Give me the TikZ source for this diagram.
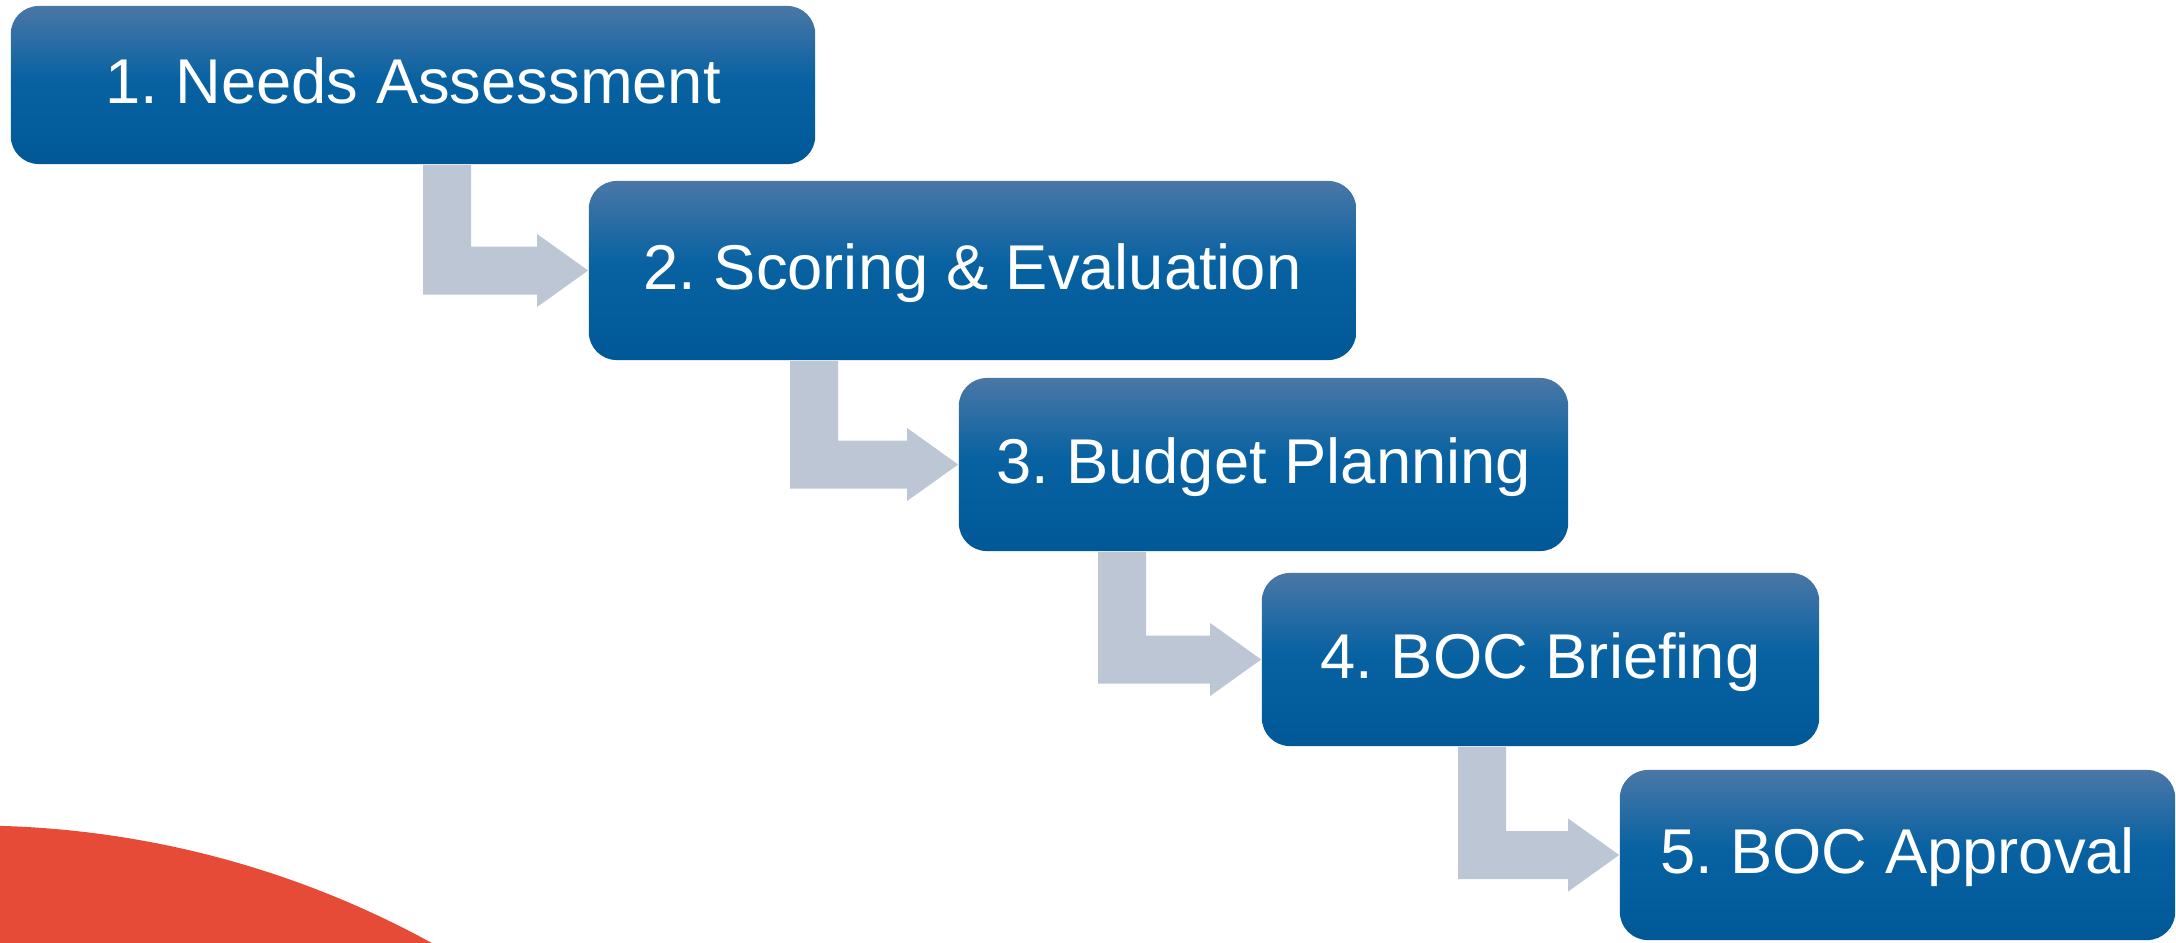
\documentclass[tikz,border=0pt]{standalone}
\usepackage{fontspec}
\setmainfont{Liberation Sans}
\usetikzlibrary{calc}
\frenchspacing
\definecolor{boxtop}{RGB}{74,119,166}
\definecolor{boxmid}{RGB}{8,98,162}
\definecolor{boxbot}{RGB}{0,88,151}
\definecolor{arrowgray}{RGB}{189,198,212}
\definecolor{redarc}{RGB}{229,75,55}
\pgfdeclareverticalshading{boxshade}{100bp}{color(0bp)=(boxbot); color(25bp)=(boxbot); color(52bp)=(boxmid); color(75bp)=(boxtop); color(100bp)=(boxtop)}
\tikzset{
  stepbox/.style={rounded corners=0.28cm, shade, shading=boxshade, inner sep=0pt,
    text=white, font=\fontsize{18pt}{20pt}\selectfont,
    text height=0.46cm, text depth=0.09cm},
  arrowfill/.style={fill=arrowgray},
  redfill/.style={fill=redarc}
}
\newcommand\flowarr[3]{%
  \coordinate (#1s) at (#3,0);
  \fill[arrowfill] (#1s |- #1.south) -- ($(#1s |- #1.south)+(48,0)$)
    -- ($(#1s |- #2.west)+(48,-24)$) -- ($(#2.west)+(-51,-24)$)
    -- ($(#2.west)+(-51,-36.5)$) -- (#2.west) -- ($(#2.west)+(-51,36.5)$)
    -- ($(#2.west)+(-51,24)$) -- ($(#1s |- #2.west)+(0,24)$) -- cycle;}
\begin{document}
\begin{tikzpicture}[x=0.01cm,y=-0.01cm]
\useasboundingbox (0,0) rectangle (2176,942);
\begin{scope}
  \clip (0,0) rectangle (2176,942);
  \fill[redfill] (-28,1782) circle [radius=9.56cm];
\end{scope}
\node[stepbox, minimum width=8.04cm, minimum height=1.58cm] (b1) at (413,85) {1. Needs Assessment};
\node[stepbox, minimum width=7.67cm, minimum height=1.79cm] (b2) at (972.5,270.5) {2. Scoring \& Evaluation};
\node[stepbox, minimum width=6.09cm, minimum height=1.73cm] (b3) at (1263.5,464.5) {3. Budget Planning};
\node[stepbox, minimum width=5.57cm, minimum height=1.73cm] (b4) at (1540.5,659.5) {4. BOC Briefing};
\node[stepbox, minimum width=5.55cm, minimum height=1.70cm] (b5) at (1897.5,855) {5. BOC Approval};
\flowarr{b1}{b2}{423}
\flowarr{b2}{b3}{790}
\flowarr{b3}{b4}{1098}
\flowarr{b4}{b5}{1458}
\end{tikzpicture}
\end{document}
